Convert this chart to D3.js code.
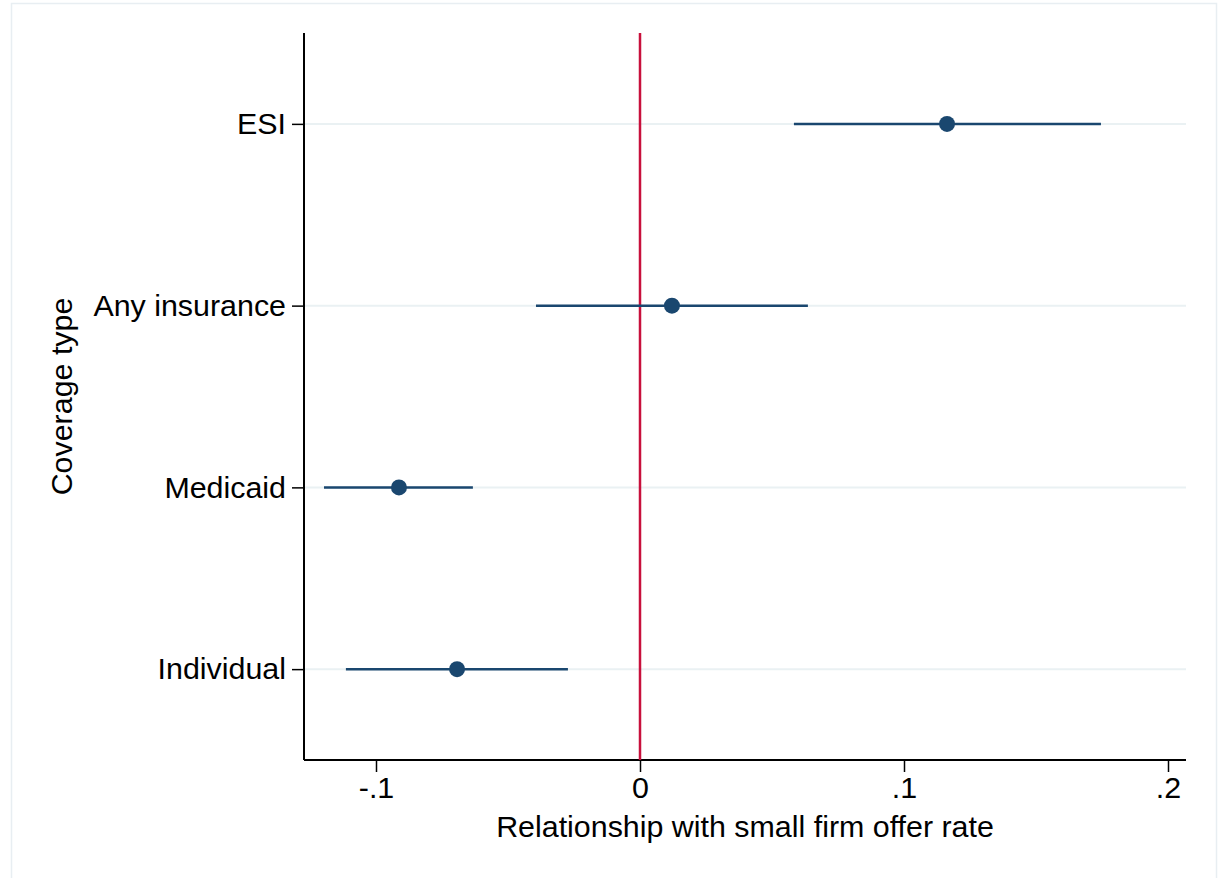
<!DOCTYPE html>
<html>
<head>
<meta charset="utf-8">
<script src="https://cdn.jsdelivr.net/npm/d3@7"></script>
<style>
  html, body { margin: 0; padding: 0; background: #fff; }
  svg { display: block; }
  text { font-family: "Liberation Sans", Arial, sans-serif; fill: #000; }
</style>
</head>
<body>
<svg id="chart" width="1220" height="878"></svg>
<script>
// Data
const categories = ["ESI", "Any insurance", "Medicaid", "Individual"];
const estimates  = [0.1163, 0.0121, -0.0913, -0.0693];
const ciLower    = [0.0583, -0.0394, -0.1197, -0.1114];
const ciUpper    = [0.1746, 0.0636, -0.0633, -0.0273];
const xTickValues = [-0.1, 0, 0.1, 0.2];
const xTickLabels = ["-.1", "0", ".1", ".2"];
const xTitle = "Relationship with small firm offer rate";
const yTitle = "Coverage type";

(function () {
const svg = d3.select("#chart");

// outer frame
svg.append("rect").attr("x", 11.5).attr("y", 3.5).attr("width", 1205).attr("height", 890)
  .attr("fill", "none").attr("stroke", "#e8eef2").attr("stroke-width", 1.5);

const pL = 304, pR = 1186, pT = 33, pB = 760;

const x = d3.scaleLinear()
  .domain([(pL - 640) / 2640, (pR - 640) / 2640])
  .range([pL, pR]);

const y = d3.scaleLinear().domain([0.5, 4.5]).range([pT, pB]);
const yPos = i => y(i + 1);

const fontSize = 30.4;
const ff = '"Liberation Sans", Arial, sans-serif';

// gridlines
svg.append("g").selectAll("line").data(categories).join("line")
  .attr("x1", pL).attr("x2", pR)
  .attr("y1", (d, i) => yPos(i)).attr("y2", (d, i) => yPos(i))
  .attr("stroke", "#eaf1f3").attr("stroke-width", 2);

// x axis
const xAxis = d3.axisBottom(x).tickValues(xTickValues)
  .tickFormat((d, i) => xTickLabels[i]).tickSize(12).tickSizeOuter(0).tickPadding(4);
const gx = svg.append("g").attr("transform", `translate(0,${pB})`).call(xAxis);
gx.select(".domain").attr("stroke", "#000").attr("stroke-width", 2)
  .attr("d", `M${pL},0H${pR}`);
gx.selectAll(".tick line").attr("stroke", "#000").attr("stroke-width", 1.5);
gx.selectAll(".tick text").attr("font-size", fontSize)
  .attr("font-family", ff).attr("fill", "#000");

// y axis
const yAxis = d3.axisLeft(y).tickValues([1, 2, 3, 4])
  .tickFormat(d => categories[d - 1]).tickSize(12).tickSizeOuter(0).tickPadding(6);
const gy = svg.append("g").attr("transform", `translate(${pL},0)`).call(yAxis);
gy.select(".domain").attr("stroke", "#000").attr("stroke-width", 2)
  .attr("d", `M0,${pT}V${pB}`);
gy.selectAll(".tick line").attr("stroke", "#000").attr("stroke-width", 1.5);
gy.selectAll(".tick text").attr("font-size", fontSize)
  .attr("font-family", ff).attr("fill", "#000");

// zero reference line
svg.append("line")
  .attr("x1", x(0)).attr("x2", x(0)).attr("y1", pT).attr("y2", pB)
  .attr("stroke", "#c8103c").attr("stroke-width", 2.5);

// CI lines
svg.append("g").selectAll("line").data(categories).join("line")
  .attr("x1", (d, i) => x(ciLower[i])).attr("x2", (d, i) => x(ciUpper[i]))
  .attr("y1", (d, i) => yPos(i)).attr("y2", (d, i) => yPos(i))
  .attr("stroke", "#1a476f").attr("stroke-width", 2.5);

// points
svg.append("g").selectAll("circle").data(categories).join("circle")
  .attr("cx", (d, i) => x(estimates[i])).attr("cy", (d, i) => yPos(i))
  .attr("r", 8).attr("fill", "#1a476f");

// titles
svg.append("text").attr("x", (pL + pR) / 2).attr("y", 837)
  .attr("text-anchor", "middle").attr("font-size", fontSize).text(xTitle);

svg.append("text")
  .attr("transform", `translate(72,${(pT + pB) / 2}) rotate(-90)`)
  .attr("text-anchor", "middle").attr("font-size", fontSize).text(yTitle);
})();
</script>
</body>
</html>
